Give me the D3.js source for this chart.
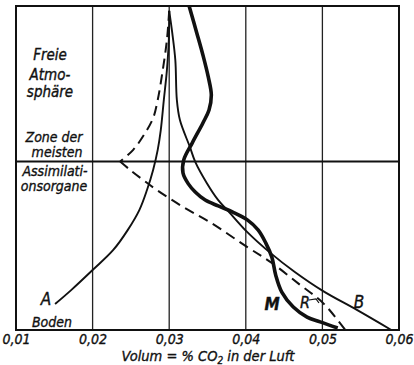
<!DOCTYPE html>
<html>
<head>
<meta charset="utf-8">
<script src="https://cdn.jsdelivr.net/npm/d3@7"></script>
<style>
html,body{margin:0;padding:0;background:#fff;}
svg{display:block;}
text{font-family:"DejaVu Sans Condensed","DejaVu Sans",sans-serif;font-style:italic;fill:#111;stroke:#111;stroke-width:0.35px;}
</style>
</head>
<body>
<svg id="chart" width="414" height="365"></svg>
<script>
// ---- data ----
const xTicks = [0.01, 0.02, 0.03, 0.04, 0.05, 0.06];
const gridX = [0.02, 0.03, 0.04, 0.05];
const zoneBoundary = 52; // relative height of the assimilation zone line
// curve A (Boden -> free atmosphere), [CO2 %, relative height]
const curveA = [[0.0151,8.0],[0.0172,12.3],[0.0200,18.5],[0.0227,24.7],[0.0246,30.9],[0.0261,37.0],[0.0271,43.2],[0.0279,49.4],[0.0285,55.6],[0.0289,61.7],[0.0293,71.0],[0.0297,80.2],[0.02995,89.5],[0.0300,98.5]];
// curve R (dashed), upper and lower branch meet at the zone line
const curveRUpper = [[0.0300,98.5],[0.0297,89.5],[0.0291,79.3],[0.0285,71.0],[0.0279,65.4],[0.0267,60.2],[0.0253,55.6],[0.0236,52.0]];
const curveRLower = [[0.0236,52.0],[0.0249,49.4],[0.0266,46.3],[0.0284,43.2],[0.0318,38.0],[0.0353,33.3],[0.0402,25.6],[0.0434,20.7],[0.0471,13.9],[0.0501,8.3],[0.0530,0]];
// curve B
const curveB = [[0.0300,98.5],[0.0304,91.7],[0.0308,83.3],[0.0310,71.0],[0.0314,64.8],[0.0327,56.5],[0.0334,51.9],[0.0349,45.4],[0.0364,40.1],[0.0376,37.0],[0.0402,30.2],[0.0432,23.8],[0.0464,17.9],[0.0501,12.0],[0.0545,6.2],[0.0590,0]];
// curve M (thick)
const curveM = [[0.0326,100],[0.0336,91.7],[0.0344,84.9],[0.0351,78.1],[0.0355,72.5],[0.0352,67.9],[0.0344,63.9],[0.0330,57.7],[0.0319,52.5],[0.0318,48.5],[0.0325,45.1],[0.0334,42.6],[0.0347,40.1],[0.0364,38.3],[0.0383,36.4],[0.0402,34.0],[0.0416,30.9],[0.0426,26.9],[0.0434,22.5],[0.0439,17.0],[0.0447,11.7],[0.0462,7.1],[0.0480,4.0],[0.0497,2.5],[0.0520,0.6]];

// ---- drawing ----
const svg = d3.select("#chart");
const x = d3.scaleLinear().domain([0.01, 0.06]).range([16, 399]);
const y = d3.scaleLinear().domain([0, 100]).range([330, 6]);
const fmt = d => d3.format(".2f")(d).replace(".", ",");

// grid
svg.append("g").selectAll("line").data(gridX).join("line")
  .attr("x1", d => x(d)).attr("x2", d => x(d))
  .attr("y1", y(100)).attr("y2", y(0))
  .attr("stroke", "#222").attr("stroke-width", 1.3);

// zone line
svg.append("line")
  .attr("x1", x(0.01)).attr("x2", x(0.06))
  .attr("y1", y(zoneBoundary)).attr("y2", y(zoneBoundary))
  .attr("stroke", "#111").attr("stroke-width", 2.2);

// frame
svg.append("rect")
  .attr("x", x(0.01)).attr("y", y(100))
  .attr("width", x(0.06) - x(0.01)).attr("height", y(0) - y(100))
  .attr("fill", "none").attr("stroke", "#111").attr("stroke-width", 2);

// x axis
const axis = d3.axisBottom(x).tickValues(xTicks).tickSize(0).tickPadding(4).tickFormat(fmt);
const gAx = svg.append("g").attr("transform", `translate(0,${y(0)})`).call(axis);
gAx.select(".domain").remove();
gAx.selectAll("text").attr("font-size", 14).attr("font-family", null).style("font-style", "italic").attr("fill", "#111");

const line = d3.line().x(d => x(d[0])).y(d => y(d[1])).curve(d3.curveCatmullRom.alpha(0.5));

function draw(data, w, dash) {
  svg.append("path").datum(data).attr("d", line)
    .attr("fill", "none").attr("stroke", "#111").attr("stroke-width", w)
    .attr("stroke-linecap", "butt").attr("stroke-linejoin", "round")
    .attr("stroke-dasharray", dash || null);
}
draw(curveA, 1.9);
draw(curveB, 1.9);
draw(curveRUpper, 2, "10,6");
draw(curveRLower, 2, "10,6");
draw(curveM, 3.6);

// labels
function label(t, px, py, opts = {}) {
  const el = svg.append("text").attr("x", px).attr("y", py)
    .attr("font-size", opts.size || 14)
    .attr("text-anchor", opts.anchor || "middle").text(t);
  if (opts.bold) el.attr("font-weight", "bold");
  return el;
}
label("Freie", 50, 60, {size: 15});
label("Atmo-", 50, 80, {size: 15});
label("sphäre", 50, 97, {size: 15});
label("Zone der", 54, 142);
label("meisten", 57, 157);
label("Assimilati-", 55, 176);
label("onsorgane", 54, 191);
label("A", 46, 305, {size: 17});
label("Boden", 52, 327);
label("M", 272, 310, {size: 17, bold: true});
label("R", 305, 308, {size: 16});
label("B", 359, 308, {size: 17});
svg.append("path").attr("d", "M309,300 L316,299 L319,303")
  .attr("fill", "none").attr("stroke", "#111").attr("stroke-width", 1.2);

// axis title
const title = svg.append("text").attr("x", 208).attr("y", 361)
  .attr("font-size", 14.5).attr("text-anchor", "middle");
title.append("tspan").text("Volum = % CO");
title.append("tspan").attr("font-size", 10).attr("dy", 3).text("2");
title.append("tspan").attr("dy", -3).text(" in der Luft");
</script>
</body>
</html>
